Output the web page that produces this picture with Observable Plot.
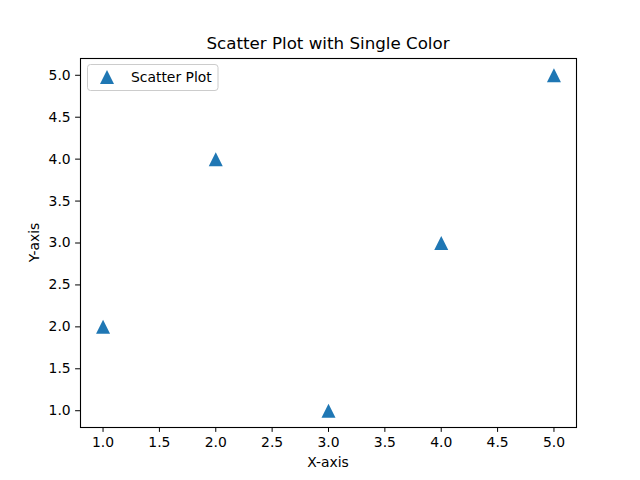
<!DOCTYPE html>
<html>
<head>
<meta charset="utf-8">
<script src="https://cdn.jsdelivr.net/npm/d3@7"></script>
<script src="https://cdn.jsdelivr.net/npm/@observablehq/plot@0.6"></script>
<style>
  html, body { margin: 0; padding: 0; background: #fff; }
  #chart { position: relative; width: 640px; height: 480px; }
  svg { font-family: "DejaVu Sans", sans-serif; }
</style>
</head>
<body>
<div id="chart"></div>
<script>
const xValues = [1, 2, 3, 4, 5];
const yValues = [2, 4, 1, 3, 5];
const xTicks = [1.0, 1.5, 2.0, 2.5, 3.0, 3.5, 4.0, 4.5, 5.0];
const yTicks = [1.0, 1.5, 2.0, 2.5, 3.0, 3.5, 4.0, 4.5, 5.0];
const titleText = "Scatter Plot with Single Color";
const xLabel = "X-axis";
const yLabel = "Y-axis";
const seriesName = "Scatter Plot";
const color = "#1f77b4";

const data = xValues.map((x, i) => ({x, y: yValues[i]}));

const triangle = {
  draw(ctx, size) {
    const h = Math.sqrt(size / Math.PI);
    ctx.moveTo(0, -h);
    ctx.lineTo(-h, h);
    ctx.lineTo(h, h);
    ctx.closePath();
  }
};

const W = 640, H = 480;
const mL = 80, mR = 64, mT = 58, mB = 53;

const plot = Plot.plot({
  width: W,
  height: H,
  marginLeft: mL,
  marginRight: mR,
  marginTop: mT,
  marginBottom: mB,
  style: {fontFamily: "DejaVu Sans, sans-serif", fontSize: "13.9px", background: "#fff", color: "#000"},
  x: {domain: [0.8, 5.2], ticks: xTicks, tickFormat: d3.format(".1f"), tickSize: 4.9, tickPadding: 4.9, label: null},
  y: {domain: [0.8, 5.2], ticks: yTicks, tickFormat: d3.format(".1f"), tickSize: 4.9, tickPadding: 4.9, label: null},
  marks: [
    Plot.frame({stroke: "#000", strokeWidth: 1.1}),
    Plot.axisX({ticks: xTicks, tickFormat: d3.format(".1f"), tickSize: 4.9, tickPadding: 4.9, stroke: "#000", fill: "#000", fontSize: 13.9, label: null}),
    Plot.axisY({ticks: yTicks, tickFormat: d3.format(".1f"), tickSize: 4.9, tickPadding: 4.9, stroke: "#000", fill: "#000", fontSize: 13.9, label: null}),
    Plot.dot(data, {x: "x", y: "y", symbol: triangle, r: 7, fill: color, stroke: "none"})
  ]
});

document.getElementById("chart").appendChild(plot);

const svg = d3.select(plot);
// title
svg.append("text")
  .attr("x", mL + (W - mL - mR) / 2).attr("y", 49)
  .attr("text-anchor", "middle")
  .attr("font-size", 16.7).attr("fill", "#000")
  .text(titleText);
// x label
svg.append("text")
  .attr("x", mL + (W - mL - mR) / 2).attr("y", 467)
  .attr("text-anchor", "middle")
  .attr("font-size", 13.9).attr("fill", "#000")
  .text(xLabel);
// y label
svg.append("text")
  .attr("transform", `translate(39,${mT + (H - mT - mB) / 2}) rotate(-90)`)
  .attr("text-anchor", "middle")
  .attr("font-size", 13.9).attr("fill", "#000")
  .text(yLabel);
// legend
const lg = svg.append("g");
lg.append("rect")
  .attr("x", 87.5).attr("y", 64.5).attr("width", 130.5).attr("height", 26)
  .attr("rx", 3).attr("fill", "#fff").attr("fill-opacity", 0.8)
  .attr("stroke", "#ccc").attr("stroke-width", 1);
lg.append("path")
  .attr("d", d3.symbol(triangle, Math.PI * 7 * 7)())
  .attr("transform", "translate(107,77)")
  .attr("fill", color);
lg.append("text")
  .attr("x", 131).attr("y", 82)
  .attr("text-anchor", "start")
  .attr("font-size", 13.9).attr("fill", "#000")
  .text(seriesName);
</script>
</body>
</html>
